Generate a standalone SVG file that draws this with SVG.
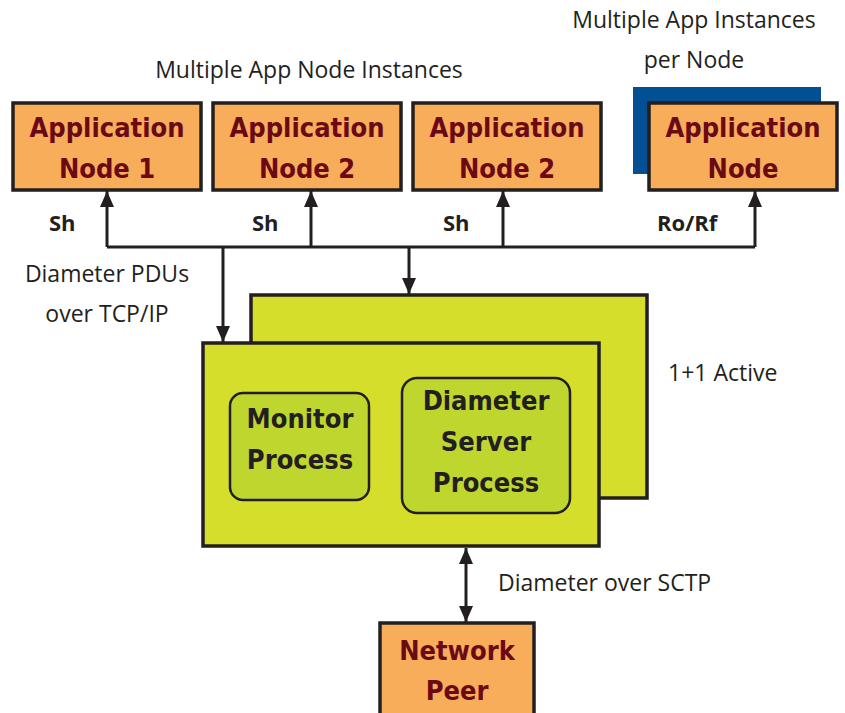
<svg xmlns="http://www.w3.org/2000/svg" width="845" height="713" viewBox="0 0 845 713">
<style>
.app{fill:#F7AD5A;stroke:#231F20;stroke-width:3.5}
.at{font-family:'DejaVu Sans Condensed','DejaVu Sans','Liberation Sans',sans-serif;font-weight:bold;font-size:27px;fill:#6B0A14;text-anchor:middle}
.box{fill:#D5DE2A;stroke:#231F20;stroke-width:3.5}
.proc{fill:#BFD62F;stroke:#231F20;stroke-width:2.5}
.pt{font-family:'DejaVu Sans Condensed','DejaVu Sans','Liberation Sans',sans-serif;font-weight:bold;font-size:27px;fill:#231F20;text-anchor:middle}
.lbl{font-family:'Open Sans','Liberation Sans',sans-serif;font-size:23px;fill:#231F20}
.if{font-family:'Open Sans','Liberation Sans',sans-serif;font-weight:bold;font-size:22px;fill:#231F20}
.ln{fill:none;stroke:#231F20;stroke-width:3}
</style>
<defs>
<marker id="ah" markerUnits="userSpaceOnUse" markerWidth="16" markerHeight="16" viewBox="0 0 16 14" refX="16" refY="7" orient="auto-start-reverse">
<path d="M0,0 L16,7 L0,14 z" fill="#231F20"/>
</marker>
</defs>
<text class="lbl" x="309" y="78" text-anchor="middle">Multiple App Node Instances</text>
<text class="lbl" x="694" y="28" text-anchor="middle">Multiple App Instances</text>
<text class="lbl" x="694" y="68" text-anchor="middle">per Node</text>
<text class="lbl" x="107" y="282" text-anchor="middle">Diameter PDUs</text>
<text class="lbl" x="107" y="322" text-anchor="middle">over TCP/IP</text>
<text class="lbl" x="668" y="381">1+1 Active</text>
<text class="lbl" x="498" y="591">Diameter over SCTP</text>
<g id="app1"><rect class="app" x="13" y="103" width="188" height="87"/><text class="at" x="107" y="137">Application</text><text class="at" x="107" y="178">Node 1</text></g>
<g id="app2"><rect class="app" x="213" y="103" width="188" height="87"/><text class="at" x="307" y="137">Application</text><text class="at" x="307" y="178">Node 2</text></g>
<g id="app3"><rect class="app" x="413" y="103" width="188" height="87"/><text class="at" x="507" y="137">Application</text><text class="at" x="507" y="178">Node 2</text></g>
<g id="app4"><rect x="633" y="87" width="188" height="87" fill="#034F93"/><rect class="app" x="649" y="103" width="188" height="87"/><text class="at" x="743" y="137">Application</text><text class="at" x="743" y="178">Node</text></g>
<g id="server">
<rect class="box" x="251" y="295" width="396" height="203"/>
<rect class="box" x="203" y="343" width="396" height="203"/>
<g id="monitor"><rect class="proc" x="230" y="393" width="139" height="107" rx="13"/><text class="pt" x="300" y="428">Monitor</text><text class="pt" x="300" y="469">Process</text></g>
<g id="dsp"><rect class="proc" x="402" y="378" width="168" height="135" rx="15"/><text class="pt" x="486" y="410">Diameter</text><text class="pt" x="486" y="451">Server</text><text class="pt" x="486" y="492">Process</text></g>
</g>
<g id="peer"><rect class="app" x="380" y="623" width="154" height="100"/><text class="at" x="457" y="660">Network</text><text class="at" x="457" y="700">Peer</text></g>
<g id="connectors">
<path class="ln" d="M107,247 H755"/>
<path class="ln" d="M107,247 V191" marker-end="url(#ah)"/>
<path class="ln" d="M311,247 V191" marker-end="url(#ah)"/>
<path class="ln" d="M503,247 V191" marker-end="url(#ah)"/>
<path class="ln" d="M755,247 V191" marker-end="url(#ah)"/>
<path class="ln" d="M223,247 V342" marker-end="url(#ah)"/>
<path class="ln" d="M409,247 V294" marker-end="url(#ah)"/>
<path class="ln" d="M466,548 V622" marker-start="url(#ah)" marker-end="url(#ah)"/>
<text class="if" x="49" y="231">Sh</text>
<text class="if" x="252" y="231">Sh</text>
<text class="if" x="443" y="231">Sh</text>
<text class="if" x="657" y="231">Ro/Rf</text>
</g>
</svg>
